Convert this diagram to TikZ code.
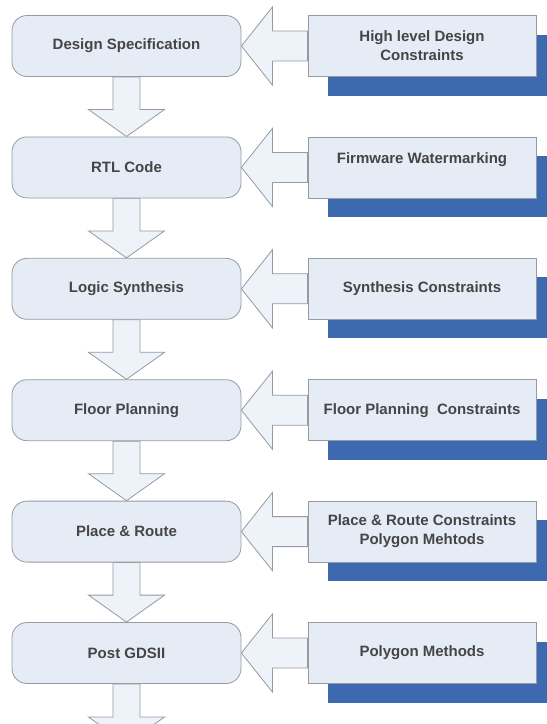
\documentclass[tikz,border=0pt]{standalone}
\usepackage{fontspec}
\setmainfont{Liberation Sans}
\usetikzlibrary{calc,shadows}

\definecolor{boxfill}{HTML}{E6ECF6}
\definecolor{arrowfill}{HTML}{EEF2F9}
\definecolor{edgegray}{HTML}{969AA2}
\definecolor{shadowblue}{HTML}{3D69B1}
\definecolor{labelgray}{HTML}{454545}

\pgfdeclarelayer{under}
\pgfsetlayers{under,main}

\tikzset{
  x=1pt, y=-1pt,
  label font/.style={font=\bfseries\fontsize{15}{19}\selectfont, text=labelgray, align=center},
  stage/.style={label font, draw=edgegray, line width=0.8pt, fill=boxfill,
    rounded corners=15pt, minimum width=229pt, minimum height=61pt, inner sep=0pt},
  constraint/.style={label font, draw=edgegray, line width=0.8pt, fill=boxfill,
    minimum width=228pt, minimum height=61pt, inner sep=0pt,
    general shadow={shadow xshift=20pt, shadow yshift=-19pt, fill=shadowblue, opacity=1}},
  bigarrow/.style={draw=edgegray, line width=0.8pt, fill=arrowfill, line join=miter},
}

\begin{document}
\begin{tikzpicture}
  \useasboundingbox (0,0) rectangle (547,724);

  % design flow stages (left) and their inputs (right)
  \node[stage] (l1) at (126.5,46.0)  {Design Specification};
  \node[stage] (l2) at (126.5,167.4) {RTL Code};
  \node[stage] (l3) at (126.5,288.8) {Logic Synthesis};
  \node[stage] (l4) at (126.5,410.2) {Floor Planning};
  \node[stage] (l5) at (126.5,531.6) {Place \& Route};
  \node[stage] (l6) at (126.5,653.0) {Post GDSII};

  \node[constraint] (r1) at (422,46.0)  {High level Design\\Constraints};
  \node[constraint] (r2) at (422,167.4) {Firmware Watermarking\\\mbox{}};
  \node[constraint] (r3) at (422,288.8) {Synthesis Constraints};
  \node[constraint] (r4) at (422,410.2) {Floor Planning\ \ Constraints};
  \node[constraint] (r5) at (422,531.6) {Place \& Route Constraints\\Polygon Mehtods};
  \node[constraint] (r6) at (422,653.0) {Polygon Methods};

  % tip of the last arrow, below the page edge
  \coordinate (tail) at (126.5,744.0);

  \begin{pgfonlayer}{under}
    \fill[white] (0,0) rectangle (547,724);
    % block arrows from each input box into its stage
    \foreach \i in {1,...,6}{
      \draw[bigarrow] (l\i.east) -- ++(31,-39) -- ++(0,24)
        -- ($(r\i.west)+(0,-15)$) -- ($(r\i.west)+(0,15)$)
        -- ($(l\i.east)+(31,15)$) -- ++(0,24) -- cycle;
    }
    % block arrows down the flow
    \foreach \i/\j in {1/2,2/3,3/4,4/5,5/6}{
      \draw[bigarrow] ($(l\i.south)+(-13.5,0)$) -- ($(l\j.north)+(-13.5,-27)$)
        -- ++(-24.5,0) -- (l\j.north) -- ($(l\j.north)+(38,-27)$)
        -- ++(-24.5,0) -- ($(l\i.south)+(13.5,0)$) -- cycle;
    }
    \draw[bigarrow] ($(l6.south)+(-13.5,0)$) -- ($(tail)+(-13.5,-27)$)
      -- ++(-24.5,0) -- (tail) -- ($(tail)+(38,-27)$)
      -- ++(-24.5,0) -- ($(l6.south)+(13.5,0)$) -- cycle;
  \end{pgfonlayer}
\end{tikzpicture}
\end{document}
